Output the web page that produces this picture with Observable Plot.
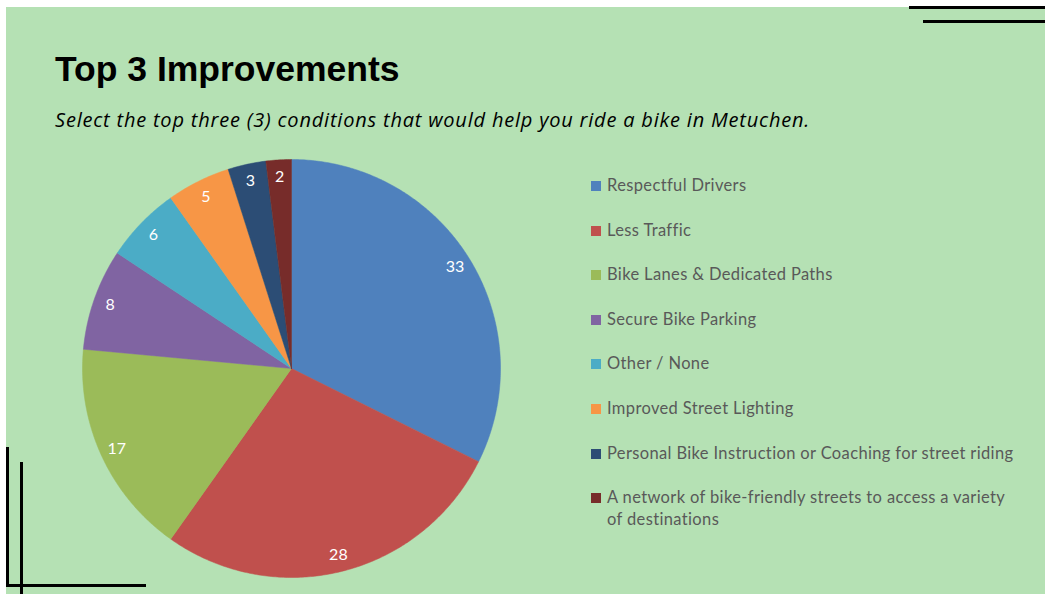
<!DOCTYPE html>
<html><head><meta charset="utf-8">
<script src="https://cdn.jsdelivr.net/npm/d3@7"></script>
<script src="https://cdn.jsdelivr.net/npm/@observablehq/plot@0.6"></script>
<style>
body{margin:0;background:#fff;}
#page{position:relative;width:1045px;height:594px;overflow:hidden;}
#panel{position:absolute;left:6px;top:7px;right:0;bottom:0;background:#b5e1b4;}
.rule{position:absolute;background:#000;}
#title{position:absolute;left:55px;top:49px;margin:0;font:bold 35.5px "Liberation Sans",Arial,sans-serif;color:#000;white-space:nowrap;}
#subtitle{position:absolute;left:55px;top:106px;margin:0;font:italic 20px "Open Sans",sans-serif;letter-spacing:0.8px;color:#000;white-space:nowrap;}
#chart{position:absolute;left:0;top:145px;}
#legend{position:absolute;left:591px;top:0;font:16.5px Lato,"Open Sans",sans-serif;letter-spacing:0.36px;color:#595959;}
.item{position:absolute;left:0;width:428px;display:flex;align-items:flex-start;}
.sw{width:10px;height:10px;margin-top:5px;margin-right:6px;flex:none;}
.lab{line-height:22px;margin-top:-2px;}
</style></head><body>
<div id="page">
  <div id="panel"></div>
  <div class="rule" style="left:909px;top:6px;width:136px;height:3px"></div>
  <div class="rule" style="left:923px;top:20px;width:122px;height:3px"></div>
  <div class="rule" style="left:6px;top:447px;width:3px;height:140px"></div>
  <div class="rule" style="left:20px;top:462px;width:3px;height:132px"></div>
  <div class="rule" style="left:6px;top:584px;width:140px;height:3px"></div>
  <h1 id="title">Top 3 Improvements</h1>
  <p id="subtitle">Select the top three (3) conditions that would help you ride a bike in Metuchen.</p>
  <div id="chart"></div>
  <div id="legend"></div>
</div>
<script>
const categories = [
  "Respectful Drivers",
  "Less Traffic",
  "Bike Lanes & Dedicated Paths",
  "Secure Bike Parking",
  "Other / None",
  "Improved Street Lighting",
  "Personal Bike Instruction or Coaching for street riding",
  "A network of bike-friendly streets to access a variety of destinations"
];
const values = [33, 28, 17, 8, 6, 5, 3, 2];
const colors = ["#4f81bd", "#c0504d", "#9bbb59", "#8064a2", "#4bacc6", "#f79646", "#2c4d75", "#772c2a"];

const data = categories.map((name, i) => ({name, value: values[i]}));
const arcs = d3.pie().sort(null).value(d => d.value)(data);

// slice outlines (unit radius), angles clockwise from 12 o'clock
const poly = [];
arcs.forEach(a => {
  const n = Math.max(2, Math.ceil((a.endAngle - a.startAngle) / 0.01));
  poly.push({name: a.data.name, x: 0, y: 0});
  for (let k = 0; k <= n; k++) {
    const t = a.startAngle + (a.endAngle - a.startAngle) * k / n;
    poly.push({name: a.data.name, x: Math.sin(t), y: Math.cos(t)});
  }
  poly.push({name: a.data.name, x: 0, y: 0});
});
const labels = arcs.map(a => {
  const m = (a.startAngle + a.endAngle) / 2, r = 0.92;
  return {name: a.data.name, value: a.data.value, x: r * Math.sin(m), y: r * Math.cos(m)};
});

const W = 1045, H = 449, cx = 291, cy = 223, R = 209;
const chart = Plot.plot({
  width: W, height: H, margin: 0,
  style: {background: "transparent", overflow: "visible"},
  x: {domain: [-cx / R, (W - cx) / R], axis: null},
  y: {domain: [-(H - cy) / R, cy / R], axis: null},
  color: {domain: categories, range: colors},
  marks: [
    Plot.line(poly, {x: "x", y: "y", z: "name", fill: "name", stroke: "name", strokeWidth: 0.5, curve: "linear"}),
    Plot.text(labels, {x: "x", y: "y", text: d => String(d.value), fill: "white", fontSize: 16, fontFamily: "Lato, 'Open Sans', sans-serif"})
  ]
});
document.getElementById("chart").appendChild(chart);

const color = chart.scale("color");
const legend = document.getElementById("legend");
const tops = [176, 221, 265, 310, 354, 399, 444, 488];
categories.forEach((c, i) => {
  const it = document.createElement("div");
  it.className = "item";
  it.style.top = tops[i] + "px";
  const sw = document.createElement("div");
  sw.className = "sw";
  sw.style.background = color.apply(c);
  const lab = document.createElement("div");
  lab.className = "lab";
  lab.textContent = c;
  it.appendChild(sw); it.appendChild(lab);
  legend.appendChild(it);
});
</script>
</body></html>
